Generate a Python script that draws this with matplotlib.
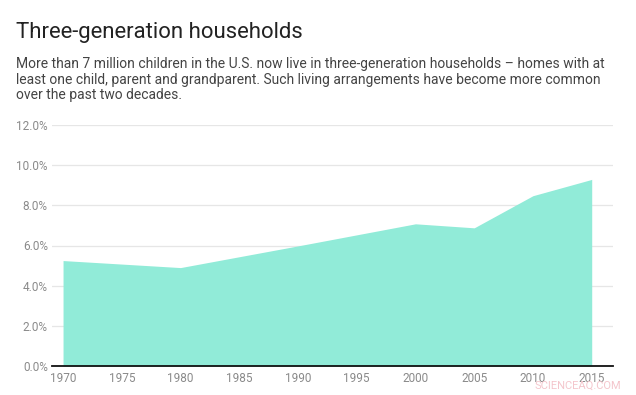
import matplotlib
matplotlib.use("Agg")
import matplotlib.pyplot as plt
from matplotlib.ticker import FuncFormatter

years = [1970, 1980, 1990, 2000, 2005, 2010, 2015]
share_pct = [5.25, 4.9, 5.98, 7.08, 6.88, 8.48, 9.29]
x_ticks = [1970, 1975, 1980, 1985, 1990, 1995, 2000, 2005, 2010, 2015]
y_ticks = [0, 2, 4, 6, 8, 10, 12]

title = "Three-generation households"
subtitle_lines = [
    "More than 7 million children in the U.S. now live in three-generation households \u2013 homes with at",
    "least one child, parent and grandparent. Such living arrangements have become more common",
    "over the past two decades.",
]

plt.rcParams['font.family'] = ['Roboto', 'DejaVu Sans']

W, H = 636, 395
fig = plt.figure(figsize=(W / 100, H / 100), dpi=100)
fig.patch.set_facecolor('white')

ax = fig.add_axes([52 / W, 29 / H, (612.5 - 52) / W, (366 - 125) / H])
ax.fill_between(years, share_pct, 0, color='#91ebd8', linewidth=0, zorder=2)
ax.set_xlim(1969.06, 2016.77)
ax.set_ylim(0, 12)
ax.set_xticks(x_ticks)
ax.set_yticks(y_ticks)
ax.yaxis.set_major_formatter(FuncFormatter(lambda v, p: f"{v:.1f}%"))
ax.grid(axis='y', color='#e6e6e6', linewidth=0.9, zorder=0)
ax.set_axisbelow(True)
for s in ['top', 'right', 'left']:
    ax.spines[s].set_visible(False)
ax.spines['bottom'].set_color('#111111')
ax.spines['bottom'].set_linewidth(1.3)
ax.spines['bottom'].set_zorder(3)
ax.tick_params(axis='both', length=0, labelsize=8.5, labelcolor='#8a8a8a')
ax.tick_params(axis='x', pad=4)
ax.tick_params(axis='y', pad=3)

renderer = fig.canvas.get_renderer()


def fit_text(x_px, baseline_px, s, target_w, size, **kw):
    t = fig.text(x_px / W, 1 - baseline_px / H, s, fontsize=size,
                 va='baseline', ha='left', **kw)
    w = t.get_window_extent(renderer).width
    if w > 0:
        t.set_fontsize(size * target_w / w)
    return t


fit_text(16, 37.7, title, 304 - 16, 16, fontweight='normal', color='#222222')

t0 = fit_text(16, 67.7, subtitle_lines[0], 606 - 16, 10, color='#444444')
sub_size = t0.get_fontsize()
for i, line in enumerate(subtitle_lines[1:], start=1):
    fig.text(16 / W, 1 - (67.7 + i * 15.9) / H, line, fontsize=sub_size,
             color='#444444', va='baseline', ha='left')

fig.text(621 / W, 1 - 389 / H, "SCIENCEAQ.COM", fontsize=8, color='#f4c6cc',
         ha='right', va='baseline')

fig.savefig("out.png", dpi=100, facecolor='white')
